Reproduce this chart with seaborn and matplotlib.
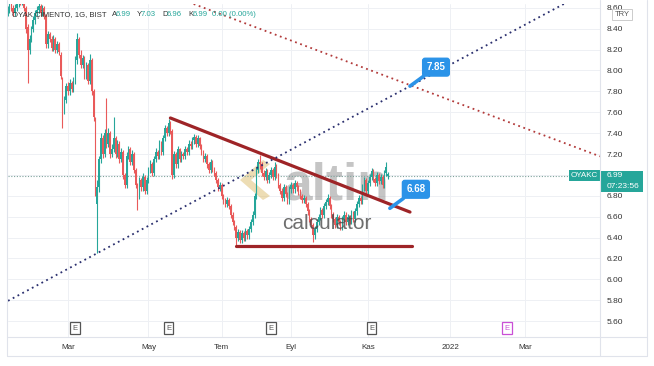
import numpy as np
import pandas as pd
import seaborn as sns
import matplotlib.pyplot as plt
from matplotlib.lines import Line2D
from matplotlib.patches import Polygon, Rectangle
from matplotlib.transforms import blended_transform_factory

# OYAKC daily candles, 2021-01-13 .. 2021-11-16 (BIST trading days)
opens = [8.55, 8.58, 8.62, 8.60, 8.55, 8.60, 8.64, 8.70, 8.66, 8.68,
         8.60, 8.42, 8.20, 8.30, 8.40, 8.48, 8.55, 8.58, 8.62, 8.55,
         8.60, 8.52, 8.25, 8.35, 8.30, 8.22, 8.30, 8.20, 8.25, 8.15,
         7.92, 7.62, 7.72, 7.85, 7.80, 7.88, 7.82, 7.90, 8.10, 8.30,
         8.15, 8.05, 8.12, 7.95, 8.05, 7.90, 8.10, 7.80, 7.52, 6.72,
         6.88, 7.15, 7.35, 7.20, 7.40, 7.30, 7.40, 7.20, 7.25, 7.35,
         7.20, 7.30, 7.15, 7.22, 7.00, 6.90, 7.18, 7.25, 7.12, 7.20,
         7.05, 6.90, 6.80, 6.95, 6.88, 6.98, 6.85, 6.95, 7.05, 7.10,
         7.02, 7.15, 7.22, 7.18, 7.30, 7.22, 7.35, 7.45, 7.40, 7.50,
         7.42, 7.00, 7.20, 7.10, 7.25, 7.15, 7.20, 7.18, 7.25, 7.22,
         7.30, 7.28, 7.33, 7.36, 7.30, 7.35, 7.28, 7.22, 7.15, 7.18,
         7.10, 7.05, 7.12, 7.06, 7.02, 6.95, 6.88, 6.90, 6.80, 6.75,
         6.72, 6.76, 6.70, 6.62, 6.55, 6.50, 6.40, 6.45, 6.38, 6.44,
         6.40, 6.46, 6.42, 6.48, 6.55, 6.62, 6.80, 7.05, 7.12, 7.10,
         7.02, 6.98, 7.04, 6.95, 7.00, 7.05, 6.98, 7.08, 7.00, 6.90,
         6.85, 6.78, 6.88, 6.82, 6.75, 6.86, 6.90, 6.86, 6.92, 6.88,
         6.84, 6.80, 6.76, 6.78, 6.72, 6.65, 6.58, 6.52, 6.42, 6.48,
         6.55, 6.60, 6.66, 6.62, 6.70, 6.74, 6.78, 6.70, 6.62, 6.58,
         6.52, 6.60, 6.55, 6.50, 6.58, 6.62, 6.55, 6.60, 6.56, 6.63,
         6.58, 6.65, 6.72, 6.78, 6.75, 6.88, 6.95, 6.85, 6.92, 6.98,
         7.04, 6.96, 6.92, 7.00, 6.94, 6.98, 6.90, 7.02, 6.99]
highs = [8.62, 8.65, 8.66, 8.63, 8.64, 8.68, 8.74, 8.73, 8.72, 8.70,
         8.62, 8.45, 8.34, 8.43, 8.52, 8.58, 8.62, 8.66, 8.64, 8.63,
         8.62, 8.54, 8.38, 8.37, 8.33, 8.34, 8.32, 8.28, 8.27, 8.18,
         7.94, 7.76, 7.88, 7.89, 7.92, 7.90, 7.94, 8.14, 8.36, 8.32,
         8.20, 8.15, 8.14, 8.08, 8.07, 8.16, 8.12, 7.82, 7.55, 6.95,
         7.18, 7.40, 7.38, 7.44, 7.74, 7.45, 7.42, 7.30, 7.55, 7.37,
         7.33, 7.32, 7.26, 7.24, 7.02, 7.22, 7.28, 7.27, 7.24, 7.22,
         7.07, 6.92, 6.98, 6.97, 7.02, 7.00, 6.98, 7.08, 7.14, 7.12,
         7.18, 7.26, 7.24, 7.33, 7.32, 7.38, 7.48, 7.47, 7.54, 7.52,
         7.44, 7.23, 7.22, 7.28, 7.26, 7.23, 7.22, 7.28, 7.27, 7.33,
         7.32, 7.36, 7.39, 7.38, 7.38, 7.36, 7.30, 7.24, 7.21, 7.20,
         7.12, 7.15, 7.14, 7.08, 7.04, 6.97, 6.93, 6.92, 6.82, 6.78,
         6.79, 6.78, 6.72, 6.64, 6.57, 6.52, 6.48, 6.47, 6.47, 6.46,
         6.49, 6.48, 6.51, 6.58, 6.65, 6.83, 7.08, 7.15, 7.19, 7.12,
         7.05, 7.07, 7.06, 7.03, 7.08, 7.07, 7.12, 7.10, 7.02, 6.92,
         6.87, 6.91, 6.90, 6.84, 6.89, 6.93, 6.92, 6.95, 6.94, 6.90,
         6.86, 6.82, 6.81, 6.80, 6.74, 6.67, 6.60, 6.54, 6.51, 6.58,
         6.63, 6.69, 6.68, 6.73, 6.77, 6.82, 6.80, 6.72, 6.64, 6.60,
         6.63, 6.62, 6.57, 6.61, 6.65, 6.64, 6.63, 6.62, 6.66, 6.65,
         6.68, 6.75, 6.81, 6.80, 6.91, 6.98, 6.97, 6.95, 7.01, 7.07,
         7.06, 6.98, 7.03, 7.02, 7.01, 7.00, 7.05, 7.12, 7.03]
lows = [8.52, 8.55, 8.57, 8.52, 8.52, 8.57, 8.61, 8.63, 8.63, 8.57,
        8.36, 7.88, 8.16, 8.27, 8.37, 8.45, 8.52, 8.55, 8.52, 8.52,
        8.49, 8.22, 8.22, 8.27, 8.19, 8.19, 8.17, 8.17, 8.15, 7.92,
        7.45, 7.58, 7.69, 7.77, 7.77, 7.79, 7.79, 7.87, 8.06, 8.12,
        8.02, 8.02, 7.92, 7.92, 7.87, 7.87, 7.77, 7.52, 6.80, 6.25,
        6.84, 7.11, 7.16, 7.17, 7.26, 7.27, 7.16, 7.17, 7.22, 7.16,
        7.17, 7.11, 7.12, 6.96, 6.87, 6.87, 7.15, 7.09, 7.09, 7.02,
        6.87, 6.66, 6.77, 6.85, 6.85, 6.82, 6.82, 6.92, 7.02, 6.99,
        6.99, 7.12, 7.15, 7.15, 7.19, 7.19, 7.32, 7.37, 7.37, 7.39,
        6.96, 6.97, 7.07, 7.07, 7.12, 7.12, 7.15, 7.15, 7.19, 7.19,
        7.25, 7.25, 7.30, 7.27, 7.27, 7.25, 7.19, 7.12, 7.12, 7.07,
        7.02, 7.02, 7.03, 6.99, 6.92, 6.85, 6.85, 6.77, 6.72, 6.69,
        6.69, 6.67, 6.59, 6.52, 6.47, 6.33, 6.37, 6.35, 6.35, 6.37,
        6.37, 6.39, 6.39, 6.45, 6.52, 6.59, 6.77, 7.02, 7.06, 6.99,
        6.95, 6.95, 6.92, 6.92, 6.97, 6.95, 6.95, 6.97, 6.87, 6.82,
        6.75, 6.75, 6.79, 6.72, 6.72, 6.83, 6.83, 6.83, 6.85, 6.81,
        6.77, 6.73, 6.73, 6.69, 6.62, 6.55, 6.49, 6.36, 6.39, 6.45,
        6.52, 6.57, 6.59, 6.59, 6.67, 6.71, 6.67, 6.59, 6.55, 6.49,
        6.49, 6.52, 6.47, 6.47, 6.55, 6.52, 6.52, 6.53, 6.53, 6.55,
        6.55, 6.62, 6.69, 6.72, 6.72, 6.85, 6.82, 6.82, 6.89, 6.95,
        6.93, 6.89, 6.89, 6.91, 6.91, 6.87, 6.87, 6.99, 6.96]
closes = [8.58, 8.62, 8.60, 8.55, 8.60, 8.64, 8.70, 8.66, 8.68, 8.60,
          8.40, 8.20, 8.30, 8.40, 8.48, 8.55, 8.58, 8.62, 8.55, 8.60,
          8.52, 8.25, 8.35, 8.30, 8.22, 8.30, 8.20, 8.25, 8.18, 7.95,
          7.62, 7.72, 7.85, 7.80, 7.88, 7.82, 7.90, 8.10, 8.30, 8.15,
          8.05, 8.12, 7.95, 8.05, 7.90, 8.10, 7.80, 7.55, 6.85, 6.88,
          7.15, 7.35, 7.20, 7.40, 7.30, 7.40, 7.20, 7.25, 7.35, 7.20,
          7.30, 7.15, 7.22, 7.00, 6.90, 7.18, 7.25, 7.12, 7.20, 7.05,
          6.90, 6.80, 6.95, 6.88, 6.98, 6.85, 6.95, 7.05, 7.10, 7.02,
          7.15, 7.22, 7.18, 7.30, 7.22, 7.35, 7.45, 7.40, 7.50, 7.42,
          7.00, 7.20, 7.10, 7.25, 7.15, 7.20, 7.18, 7.25, 7.22, 7.30,
          7.28, 7.33, 7.36, 7.30, 7.35, 7.28, 7.22, 7.15, 7.18, 7.10,
          7.05, 7.12, 7.06, 7.02, 6.95, 6.88, 6.90, 6.80, 6.75, 6.72,
          6.76, 6.70, 6.62, 6.55, 6.50, 6.40, 6.45, 6.38, 6.44, 6.40,
          6.46, 6.42, 6.48, 6.55, 6.62, 6.80, 7.05, 7.12, 7.10, 7.02,
          6.98, 7.04, 6.95, 7.00, 7.05, 6.98, 7.08, 7.00, 6.90, 6.85,
          6.78, 6.88, 6.82, 6.75, 6.86, 6.90, 6.86, 6.92, 6.88, 6.84,
          6.80, 6.76, 6.78, 6.72, 6.65, 6.58, 6.52, 6.42, 6.48, 6.55,
          6.60, 6.66, 6.62, 6.70, 6.74, 6.78, 6.70, 6.62, 6.58, 6.52,
          6.60, 6.55, 6.50, 6.58, 6.62, 6.55, 6.60, 6.56, 6.63, 6.58,
          6.65, 6.72, 6.78, 6.75, 6.88, 6.95, 6.85, 6.92, 6.98, 7.04,
          6.96, 6.92, 7.00, 6.94, 6.98, 6.90, 7.02, 7.08, 6.99]

first_day = '2021-01-13'
holidays = ['2021-04-23', '2021-05-13', '2021-05-14', '2021-05-19', '2021-07-15',
            '2021-07-20', '2021-07-21', '2021-07-22', '2021-07-23', '2021-08-30',
            '2021-10-29']
month_starts = ['2021-03-01', '2021-05-01', '2021-07-01', '2021-09-01',
                '2021-11-01', '2022-01-01', '2022-03-01']
month_labels = ['Mar', 'May', 'Tem', 'Eyl', 'Kas', '2022', 'Mar']
earn_dates = ['2021-03-05', '2021-05-21', '2021-08-16', '2021-11-03', '2022-02-15']
price_ticks = [5.6, 5.8, 6.0, 6.2, 6.4, 6.6, 6.8, 7.0, 7.2, 7.4, 7.6, 7.8, 8.0, 8.2, 8.4, 8.6]

# drawings (date, price)
tri_top_dates = ['2021-05-24', '2021-12-02']
tri_top_prices = [7.545, 6.644]
tri_bot_dates = ['2021-07-13', '2021-12-03']
tri_bot_prices = [6.32, 6.32]
blue_ray_dates = ['2021-03-23', '2021-12-02']
blue_ray_prices = [6.25, 7.85]
red_ray_dates = ['2021-12-02', '2022-04-25']
red_ray_prices = [7.86, 7.19]
callout_dates = ['2021-12-02', '2021-11-17']
callout_prices = [7.85, 6.68]
last_price = 6.99

TEAL = '#26a69a'
RED = '#e95a5a'
DARKRED = '#9e2427'
BLUE = '#2b93e8'
FRAME = '#e0e3eb'

# trading calendar -> bar index
cal = pd.bdate_range(first_day, '2022-06-30')
cal = cal[~cal.isin(pd.to_datetime(holidays))]


def pos(d):
    return int(cal.searchsorted(pd.Timestamp(d)))


sns.set_theme(style='white')
plt.rcParams['font.family'] = ['Liberation Sans', 'DejaVu Sans']

W, H = 654, 366
fig = plt.figure(figsize=(W / 100, H / 100), dpi=100)
ax = fig.add_axes([8 / W, (H - 337) / H, 592 / W, 333 / H])

o = np.array(opens); h = np.array(highs); l = np.array(lows); c = np.array(closes)
x = np.arange(len(c))
col = np.where(c >= o, TEAL, RED)
ax.vlines(x, l, h, colors=col, lw=0.8, zorder=3)
ax.bar(x, np.maximum(np.abs(c - o), 0.015), bottom=np.minimum(o, c),
       width=0.82, color=col, lw=0, zorder=3)

# triangle
sns.lineplot(x=[pos(d) for d in tri_top_dates], y=tri_top_prices, ax=ax,
             color=DARKRED, lw=2.3, zorder=4)
sns.lineplot(x=[pos(d) for d in tri_bot_dates], y=tri_bot_prices, ax=ax,
             color=DARKRED, lw=2.3, zorder=4)

# dotted rays
ax.axline((pos(blue_ray_dates[0]), blue_ray_prices[0]),
          (pos(blue_ray_dates[1]), blue_ray_prices[1]),
          color='#2a2f6e', lw=1.3, ls=(0, (1, 2)), zorder=4)
ax.axline((pos(red_ray_dates[0]), red_ray_prices[0]),
          (pos(red_ray_dates[1]), red_ray_prices[1]),
          color='#b23a3a', lw=1.3, ls=(0, (1, 2)), zorder=4)

# last price line
ax.axhline(last_price, color='#7fa39c', lw=0.8, ls=(0, (1, 1.5)), zorder=2)

# callouts
for d, p in zip(callout_dates, callout_prices):
    ax.annotate(f'{p:.2f}', xy=(pos(d), p), xytext=(26, 19), textcoords='offset pixels',
                ha='center', va='center', color='white', fontsize=7, fontweight='bold',
                bbox=dict(boxstyle='round,pad=0.4,rounding_size=0.25', fc=BLUE, ec=BLUE),
                arrowprops=dict(arrowstyle='-', color=BLUE, lw=2.6, shrinkA=0, shrinkB=0),
                zorder=6)

# watermark
def axfrac(px, py):
    return (px - 8) / 592, (337 - py) / 333


ax.add_patch(Polygon([axfrac(*p) for p in [(263, 160), (240, 180), (263, 200),
                                             (270, 196), (251, 180), (270, 164)]],
                     closed=True, transform=ax.transAxes, fc='#d9b45a', ec='none',
                     alpha=0.45, zorder=1))
ax.text(*axfrac(336, 200), 'altin', transform=ax.transAxes, ha='center', va='baseline',
        fontsize=37, fontweight='bold', color='#8c8c8c', alpha=0.5, zorder=1)
ax.text(*axfrac(327, 229), 'calculator', transform=ax.transAxes, ha='center',
        va='baseline', fontsize=15, color='#4a4a4a', alpha=0.8, zorder=5)

# axes, ticks and grid
ax.set_xlim(0.2, 323.9)
ax.set_ylim(5.447, 8.637)
ax.yaxis.tick_right()
ax.set_yticks(price_ticks)
ax.set_yticklabels([f'{v:.2f}' for v in price_ticks])
ax.set_xticks([pos(d) for d in month_starts])
ax.set_xticklabels(month_labels)
ax.tick_params(axis='y', length=0, pad=5, labelsize=6, labelcolor='#333333')
ax.tick_params(axis='x', length=0, pad=5, labelsize=5.8, labelcolor='#333333')
ax.grid(True, color='#eef0f4', lw=0.7)
ax.set_axisbelow(True)
for s in ax.spines.values():
    s.set_visible(False)

# earnings markers
tr_x = blended_transform_factory(ax.transData, ax.transAxes)
for i, d in enumerate(earn_dates):
    ec = '#c94fd6' if i == len(earn_dates) - 1 else '#555555'
    ax.text(pos(d), 0.027, 'E', transform=tr_x, ha='center', va='center', fontsize=5.5,
            color=ec, bbox=dict(boxstyle='square,pad=0.3', fc='white', ec=ec, lw=0.9),
            zorder=6)

# last price labels
tr_y = blended_transform_factory(ax.transAxes, ax.transData)
ax.text(0.9966, last_price, 'OYAKC', transform=tr_y, ha='right', va='center',
        fontsize=5.8, color='white',
        bbox=dict(boxstyle='square,pad=0.25', fc=TEAL, ec='none'), zorder=7)
ax.add_patch(Rectangle((1.0, last_price - 0.155), 43 / 592, 0.205, transform=tr_y,
                       fc=TEAL, ec='none', clip_on=False, zorder=7))
ax.text(1.0118, last_price, f'{last_price:.2f}', transform=tr_y, ha='left',
        va='center', fontsize=6, color='white', zorder=8, clip_on=False)
ax.text(1.0118, last_price - 0.105, '07:23:56', transform=tr_y, ha='left',
        va='center', fontsize=6, color='white', zorder=8, clip_on=False)


# frame
def fline(x0, y0, x1, y1):
    fig.add_artist(Line2D([x0 / W, x1 / W], [1 - y0 / H, 1 - y1 / H],
                          transform=fig.transFigure, color=FRAME, lw=0.8))


fline(7, 0, 7, 356)
fline(647, 0, 647, 356)
fline(7, 356, 647, 356)
fline(600, 0, 600, 356)
fline(7, 337, 647, 337)

fig.text(622 / W, 1 - 14.5 / H, 'TRY', fontsize=5.5, color='#555555', ha='center',
         va='center', bbox=dict(boxstyle='square,pad=0.3', fc='white', ec='#cccccc', lw=0.7))

# header
fig.text(12 / W, 1 - 15 / H, 'OYAK ÇİMENTO, 1G, BIST', fontsize=5.6, color='#333333',
         va='center')
head = [(112, 'A', '#333333'), (116, '6.99', TEAL), (137, 'Y', '#333333'),
        (141, '7.03', TEAL), (162, 'D', '#333333'), (167, '6.96', TEAL),
        (188, 'K', '#333333'), (193, '6.99', TEAL), (212, '0.00 (0.00%)', TEAL)]
for hx, txt, hc in head:
    fig.text(hx / W, 1 - 15 / H, txt, fontsize=5.6, color=hc, va='center')

fig.savefig('out.png', dpi=100)
